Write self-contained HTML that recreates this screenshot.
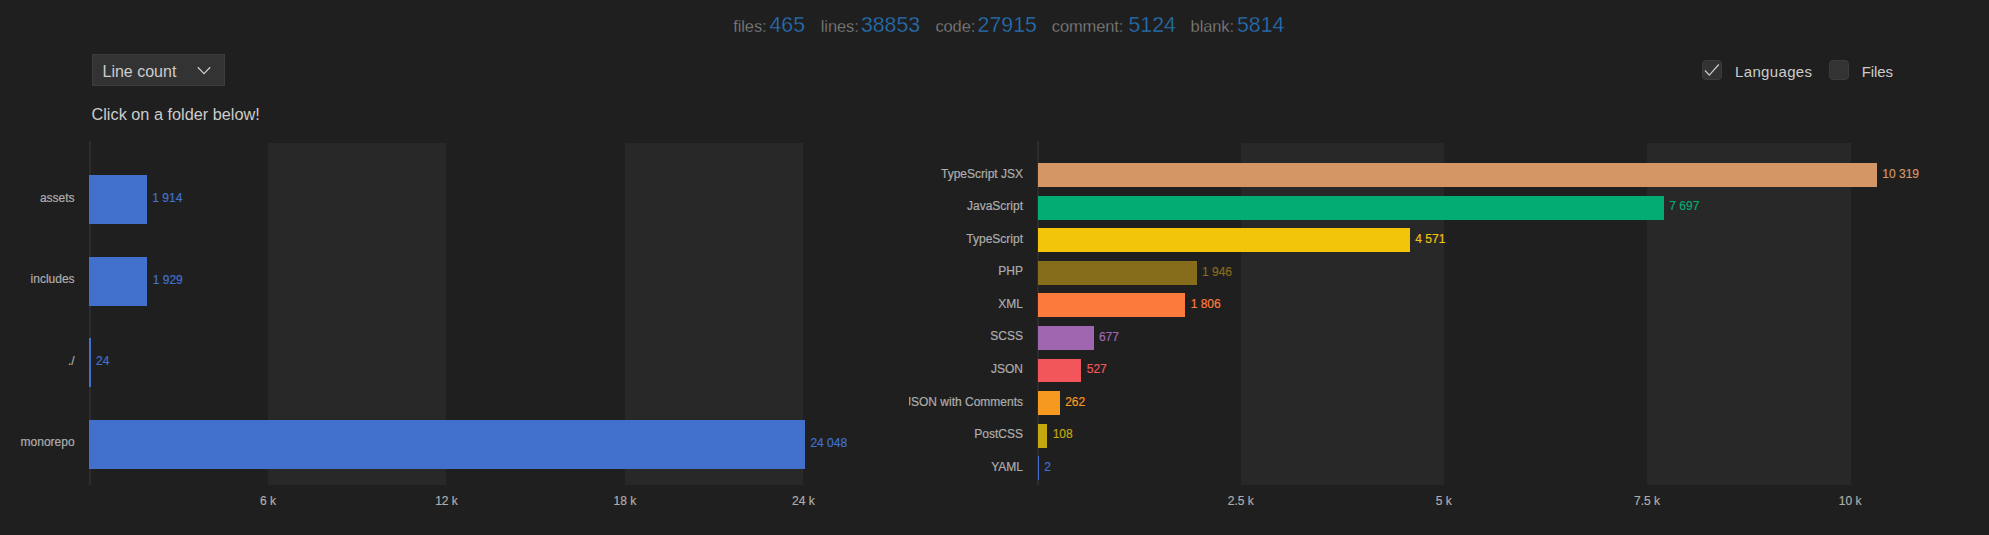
<!DOCTYPE html><html><head><meta charset='utf-8'><title>Code counter</title><style>
html,body{margin:0;padding:0;background:#1f1f1f;}
body{width:1989px;height:535px;position:relative;overflow:hidden;font-family:"Liberation Sans",sans-serif;}
.a{position:absolute;white-space:nowrap;line-height:1;}
.band{position:absolute;background:#282828;top:142.6px;height:342.2px;}
.axis{position:absolute;background:#2c2c2c;width:2px;top:140.6px;height:344.2px;}
.bar{position:absolute;}
.cl{position:absolute;white-space:nowrap;font-size:12px;line-height:14px;color:#adadad;text-align:right;-webkit-text-stroke:0.2px #adadad;}
.vl{position:absolute;white-space:nowrap;font-size:12px;line-height:14px;-webkit-text-stroke:0.2px currentColor;}
.tl{position:absolute;white-space:nowrap;font-size:12px;line-height:14px;color:#adadad;width:80px;text-align:center;-webkit-text-stroke:0.2px #adadad;}
.st{position:absolute;white-space:nowrap;line-height:24px;top:13px;}
.st .k{font-size:16.5px;color:#858585;letter-spacing:-0.12px;position:relative;top:1px;-webkit-text-stroke:0.3px #1f1f1f;}
.st .v{font-size:21.3px;color:#2773b9;position:relative;top:0.3px;-webkit-text-stroke:0.35px #1f1f1f;}
.ui{position:absolute;white-space:nowrap;color:#cccccc;font-size:16px;line-height:20px;}
.cb{position:absolute;width:18px;height:18px;border:1px solid #3c3c3c;background:#333333;border-radius:4px;top:60px;}
</style></head><body>
<div class='st' style='left:733.3px'><span class='k'>files:</span></div>
<div class='st' style='left:769.5px'><span class='v'>465</span></div>
<div class='st' style='left:820.8px'><span class='k'>lines:</span></div>
<div class='st' style='left:860.9px'><span class='v'>38853</span></div>
<div class='st' style='left:935.4px'><span class='k'>code:</span></div>
<div class='st' style='left:977.6px'><span class='v'>27915</span></div>
<div class='st' style='left:1051.8px'><span class='k'>comment:</span></div>
<div class='st' style='left:1128.5px'><span class='v'>5124</span></div>
<div class='st' style='left:1190.6px'><span class='k'>blank:</span></div>
<div class='st' style='left:1237.0px'><span class='v'>5814</span></div>
<div class='a' style='left:92px;top:54px;width:130.5px;height:30px;background:#333333;border:1px solid #3c3c3c;'></div>
<div class='ui' style='left:102.5px;top:62.3px;'>Line count</div>
<svg class='a' style='left:196px;top:64px' width='16' height='14' viewBox='0 0 16 14'><path d='M1.8 3.2 L8 9.6 L14.2 3.2' fill='none' stroke='#cccccc' stroke-width='1.25'/></svg>
<div class='ui' style='left:91.5px;top:103.8px;font-size:16.3px'>Click on a folder below!</div>
<div class='cb' style='left:1702px'></div>
<svg class='a' style='left:1702px;top:60px' width='20' height='20' viewBox='0 0 20 20'><path d='M3 10.5 L7.3 15.2 L16.8 4.5' fill='none' stroke='#cccccc' stroke-width='1.15'/></svg>
<div class='ui' style='left:1735px;top:61.6px;font-size:15px;letter-spacing:0.35px'>Languages</div>
<div class='cb' style='left:1829px'></div>
<div class='ui' style='left:1861.8px;top:61.6px;font-size:15px;letter-spacing:-0.12px'>Files</div>
<div class='band' style='left:268px;width:178.4px'></div>
<div class='band' style='left:624.8px;width:178.4px'></div>
<div class='axis' style='left:88.8px'></div>
<div class='bar' style='left:89.20px;top:175.20px;width:57.71px;height:49.0px;background:#4171cd'></div>
<div class='cl' style='left:0;width:74.6px;top:190.80px'>assets</div>
<div class='vl' style='left:152.31px;top:191.30px;color:#4171cd'>1 914</div>
<div class='bar' style='left:89.20px;top:256.70px;width:58.16px;height:49.0px;background:#4171cd'></div>
<div class='cl' style='left:0;width:74.6px;top:272.30px'>includes</div>
<div class='vl' style='left:152.76px;top:272.80px;color:#4171cd'>1 929</div>
<div class='bar' style='left:89.20px;top:338.20px;width:1.51px;height:49.0px;background:#4171cd'></div>
<div class='cl' style='left:0;width:74.6px;top:353.80px'>./</div>
<div class='vl' style='left:96.11px;top:354.30px;color:#4171cd'>24</div>
<div class='bar' style='left:89.20px;top:419.70px;width:715.83px;height:49.0px;background:#4171cd'></div>
<div class='cl' style='left:0;width:74.6px;top:435.30px'>monorepo</div>
<div class='vl' style='left:810.43px;top:435.80px;color:#4171cd'>24 048</div>
<div class='tl' style='left:228.10000000000002px;top:494.4px'>6 k</div>
<div class='tl' style='left:406.5px;top:494.4px'>12 k</div>
<div class='tl' style='left:584.9000000000001px;top:494.4px'>18 k</div>
<div class='tl' style='left:763.3000000000001px;top:494.4px'>24 k</div>
<div class='band' style='left:1241.1px;width:203.13px'></div>
<div class='band' style='left:1647.4px;width:203.13px'></div>
<div class='axis' style='left:1036.8px'></div>
<div class='a' style='left:908.5px;top:140px;width:129.5px;height:350px;overflow:hidden'>
<div class='cl' style='right:15px;top:26.70px'>TypeScript JSX</div>
<div class='cl' style='right:15px;top:59.25px'>JavaScript</div>
<div class='cl' style='right:15px;top:91.80px'>TypeScript</div>
<div class='cl' style='right:15px;top:124.35px'>PHP</div>
<div class='cl' style='right:15px;top:156.90px'>XML</div>
<div class='cl' style='right:15px;top:189.45px'>SCSS</div>
<div class='cl' style='right:15px;top:222.00px'>JSON</div>
<div class='cl' style='right:15px;top:254.55px'>JSON with Comments</div>
<div class='cl' style='right:15px;top:287.10px'>PostCSS</div>
<div class='cl' style='right:15px;top:319.65px'>YAML</div>
</div>
<div class='bar' style='left:1037.60px;top:163.25px;width:839.34px;height:23.9px;background:#d49665'></div>
<div class='vl' style='left:1882.34px;top:166.90px;color:#d49665'>10 319</div>
<div class='bar' style='left:1037.60px;top:195.80px;width:626.30px;height:23.9px;background:#02ac72'></div>
<div class='vl' style='left:1669.30px;top:199.45px;color:#02ac72'>7 697</div>
<div class='bar' style='left:1037.60px;top:228.35px;width:372.30px;height:23.9px;background:#f2c40a'></div>
<div class='vl' style='left:1415.30px;top:232.00px;color:#f2c40a'>4 571</div>
<div class='bar' style='left:1037.60px;top:260.90px;width:159.02px;height:23.9px;background:#856d1b'></div>
<div class='vl' style='left:1202.02px;top:264.55px;color:#856d1b'>1 946</div>
<div class='bar' style='left:1037.60px;top:293.45px;width:147.64px;height:23.9px;background:#fc7a3c'></div>
<div class='vl' style='left:1190.64px;top:297.10px;color:#fc7a3c'>1 806</div>
<div class='bar' style='left:1037.60px;top:326.00px;width:55.91px;height:23.9px;background:#a067b1'></div>
<div class='vl' style='left:1098.91px;top:329.65px;color:#a067b1'>677</div>
<div class='bar' style='left:1037.60px;top:358.55px;width:43.72px;height:23.9px;background:#f2555a'></div>
<div class='vl' style='left:1086.72px;top:362.20px;color:#f2555a'>527</div>
<div class='bar' style='left:1037.60px;top:391.10px;width:22.19px;height:23.9px;background:#f5991f'></div>
<div class='vl' style='left:1065.19px;top:394.75px;color:#f5991f'>262</div>
<div class='bar' style='left:1037.60px;top:423.65px;width:9.68px;height:23.9px;background:#c5a80f'></div>
<div class='vl' style='left:1052.68px;top:427.30px;color:#c5a80f'>108</div>
<div class='bar' style='left:1037.60px;top:456.20px;width:1.20px;height:23.9px;background:#4171cd'></div>
<div class='vl' style='left:1044.20px;top:459.85px;color:#4171cd'>2</div>
<div class='tl' style='left:1200.73px;top:494.4px'>2.5 k</div>
<div class='tl' style='left:1403.86px;top:494.4px'>5 k</div>
<div class='tl' style='left:1606.9899999999998px;top:494.4px'>7.5 k</div>
<div class='tl' style='left:1810.12px;top:494.4px'>10 k</div>
</body></html>
